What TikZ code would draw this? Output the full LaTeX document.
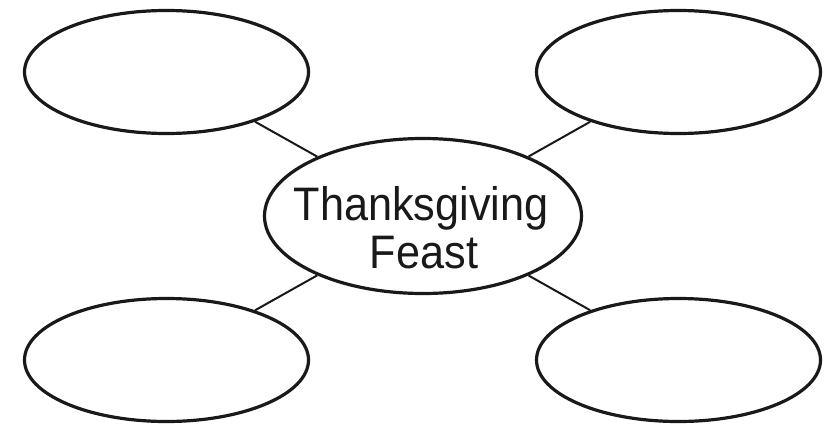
\documentclass[tikz,border=0pt]{standalone}
\usepackage{fontspec}
\setmainfont{Liberation Sans}
\usetikzlibrary{shapes.geometric}
\tikzset{
  bubble/.style={ellipse, draw=black!90, line width=3.2pt, minimum width=284pt, minimum height=123pt, inner sep=0pt},
  hub/.style={ellipse, draw=black!90, line width=3.2pt, minimum width=317pt, minimum height=155pt, inner sep=0pt},
  hubtxt/.style={anchor=base, inner sep=0pt, text=black!90, font=\fontsize{47}{47}\selectfont},
  link/.style={draw=black!90, line width=2pt}
}
\newcommand{\hubword}[1]{\scalebox{0.92}[1]{#1}}
\begin{document}
\begin{tikzpicture}[x=1pt,y=-1pt]
\useasboundingbox (0,0) rectangle (829,425);
\node[hub] (c) at (423,216) {};
\node[hubtxt] (t1) at ([xshift=-2pt,yshift=-4.7pt]c.center) {\hubword{Thanksgiving}};
\node[hubtxt] (t2) at ([xshift=1pt,yshift=-52pt]c.center) {\hubword{Feast}};
\node[bubble] (tl) at (166.5,72) {};
\node[bubble] (tr) at (678.5,72) {};
\node[bubble] (bl) at (166.5,360) {};
\node[bubble] (br) at (678.5,360) {};
\draw[link] (tl) -- (c);
\draw[link] (tr) -- (c);
\draw[link] (bl) -- (c);
\draw[link] (br) -- (c);
\end{tikzpicture}
\end{document}
